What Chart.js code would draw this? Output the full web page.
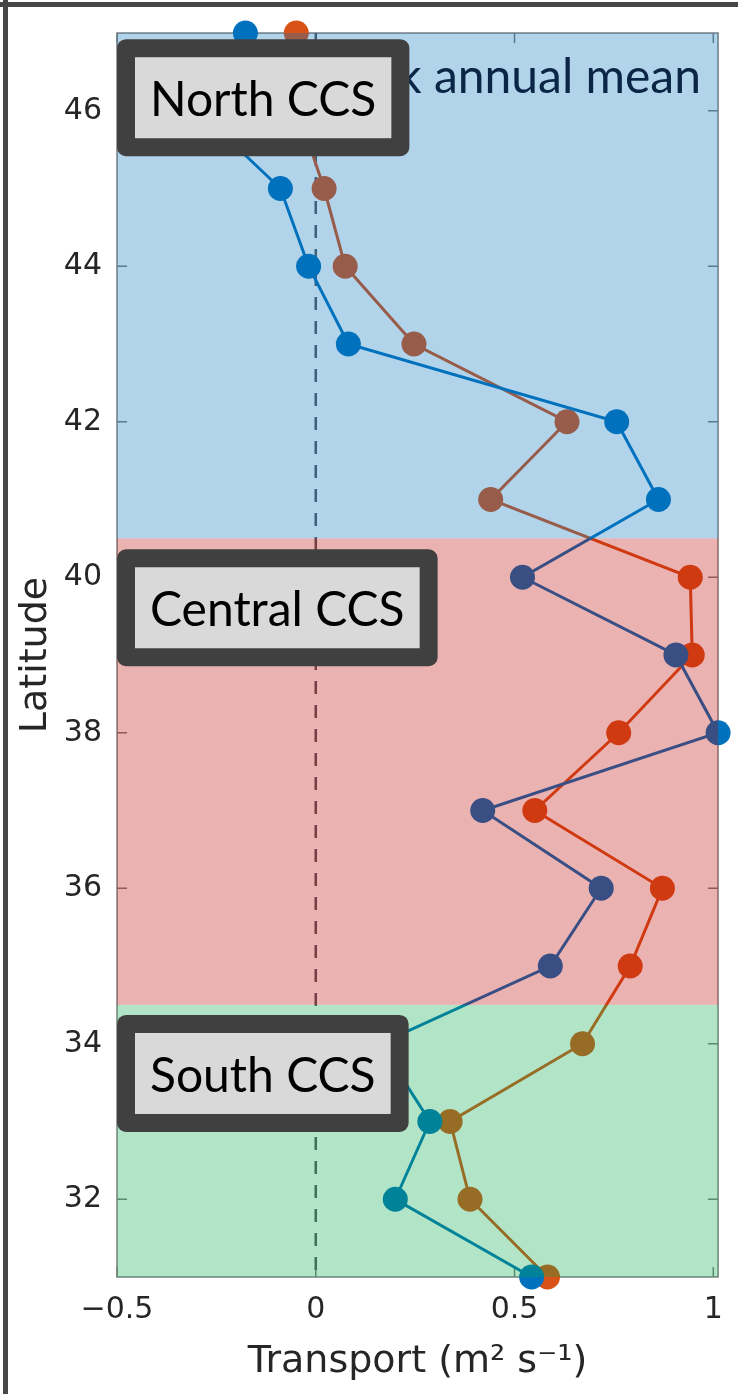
<!DOCTYPE html>
<html>
<head>
<meta charset="utf-8">
<script src="https://cdn.jsdelivr.net/npm/chart.js@4.4.1/dist/chart.umd.min.js"></script>
<style>
  html, body { margin: 0; padding: 0; background: #fff; }
  #wrap { position: relative; width: 738px; height: 1394px; }
</style>
</head>
<body>
<div id="wrap"><canvas id="myChart"></canvas></div>
<script>
// latitude of each sample, north to south
const latitudes = [47, 46, 45, 44, 43, 42, 41, 40, 39, 38, 37, 36, 35, 34, 33, 32, 31];

// transport profiles (m2 s-1)
const transportA = [-0.177, -0.295, -0.089, -0.018, 0.082, 0.757, 0.862, 0.52, 0.906, 1.012,
                    0.42, 0.718, 0.59, 0.162, 0.287, 0.2, 0.543];
const transportB = [-0.049, -0.045, 0.021, 0.074, 0.247, 0.632, 0.44, 0.942, 0.947, 0.762,
                    0.551, 0.872, 0.791, 0.671, 0.338, 0.388, 0.583];

const xTicks = [-0.5, 0, 0.5, 1];
const xTickLabels = ['\u22120.5', '0', '0.5', '1'];
const yTicks = [32, 34, 36, 38, 40, 42, 44, 46];

// regions
const bandEdges = [47, 40.5, 34.5, 31];
const bandColors = ['rgba(0,114,189,0.3)', 'rgba(190,0,0,0.3)', 'rgba(0,170,70,0.3)'];
const regionLabels = ['North CCS', 'Central CCS', 'South CCS'];
const regionBoxTop = [46.92, 40.36, 34.37];

const titleText = 'k annual mean';

const toPoints = vals => vals.map((v, i) => ({ x: v, y: latitudes[i] }));

const overlayPlugin = {
  id: 'overlay',
  beforeDatasetsDraw(chart) {
    const { ctx, chartArea: a, scales: { x, y } } = chart;
    ctx.save();
    // axes box + inner ticks
    ctx.strokeStyle = '#7f7f7f';
    ctx.lineWidth = 1.5;
    ctx.strokeRect(a.left, a.top, a.right - a.left, a.bottom - a.top);
    ctx.beginPath();
    xTicks.forEach(t => {
      const px = x.getPixelForValue(t);
      ctx.moveTo(px, a.bottom); ctx.lineTo(px, a.bottom - 10);
      ctx.moveTo(px, a.top); ctx.lineTo(px, a.top + 10);
    });
    yTicks.forEach(t => {
      const py = y.getPixelForValue(t);
      ctx.moveTo(a.left, py); ctx.lineTo(a.left + 10, py);
      ctx.moveTo(a.right, py); ctx.lineTo(a.right - 10, py);
    });
    ctx.stroke();
    // zero line
    const x0 = x.getPixelForValue(0);
    ctx.strokeStyle = '#555b62';
    ctx.lineWidth = 2.5;
    ctx.setLineDash([13, 11]);
    ctx.beginPath();
    ctx.moveTo(x0, a.top); ctx.lineTo(x0, a.bottom);
    ctx.stroke();
    ctx.restore();
  },
  afterDatasetsDraw(chart) {
    const { ctx, chartArea: a, scales: { y } } = chart;
    ctx.save();
    // translucent region bands over everything in the axes
    for (let i = 0; i < bandColors.length; i++) {
      const y1 = y.getPixelForValue(bandEdges[i]);
      const y2 = y.getPixelForValue(bandEdges[i + 1]);
      ctx.fillStyle = bandColors[i];
      ctx.fillRect(a.left, y1, a.right - a.left, y2 - y1);
    }
    // partial title text
    ctx.fillStyle = '#0b2546';
    ctx.font = '48px Lato';
    ctx.textAlign = 'right';
    ctx.textBaseline = 'alphabetic';
    ctx.fillText(titleText, 701, 93);

    // region label boxes
    ctx.font = '48px Lato';
    ctx.textAlign = 'center';
    regionLabels.forEach((label, i) => {
      const w = ctx.measureText(label).width + 30;
      const top = y.getPixelForValue(regionBoxTop[i]);
      const left = a.left;
      const bw = 18;
      ctx.fillStyle = '#404040';
      ctx.beginPath();
      ctx.roundRect(left, top, w + 2 * bw, 81 + 2 * bw, 9);
      ctx.fill();
      ctx.fillStyle = '#d9d9d9';
      ctx.fillRect(left + bw, top + bw, w, 81);
      ctx.fillStyle = '#000';
      ctx.fillText(label, left + bw + w / 2, top + bw + 59);
    });

    // figure frame
    ctx.fillStyle = '#474747';
    ctx.fillRect(0, 2, chart.width, 5);
    ctx.fillRect(3, 0, 5, chart.height);
    ctx.restore();
  }
};

const data = {
  datasets: [
    {
      label: 'A',
      data: toPoints(transportA),
      borderColor: '#0072bd',
      backgroundColor: '#0072bd',
      borderWidth: 3,
      pointRadius: 12.5,
      pointBorderWidth: 0,
      showLine: true,
      clip: false
    },
    {
      label: 'B',
      data: toPoints(transportB),
      borderColor: '#d95319',
      backgroundColor: '#d95319',
      borderWidth: 3,
      pointRadius: 12.5,
      pointBorderWidth: 0,
      showLine: true,
      clip: false
    }
  ]
};

const tickFont = { family: 'DejaVu Sans', size: 30 };
const titleFont = { family: 'DejaVu Sans', size: 38 };

const config = {
  type: 'scatter',
  data: data,
  options: {
    responsive: true,
    maintainAspectRatio: false,
    animation: false,
    layout: { padding: { top: 32, right: 19, left: 0, bottom: 0 } },
    plugins: {
      legend: { display: false },
      tooltip: { enabled: false }
    },
    scales: {
      x: {
        type: 'linear',
        min: -0.5,
        max: 1.012,
        grid: { display: false, drawTicks: false },
        border: { display: false },
        afterBuildTicks: s => { s.ticks = xTicks.map(v => ({ value: v })); },
        afterFit: s => { s.height = 117; },
        ticks: {
          font: tickFont,
          color: '#262626',
          padding: 15,
          maxRotation: 0,
          callback: (v) => xTickLabels[xTicks.indexOf(v)]
        },
        title: {
          display: true,
          text: 'Transport (m\u00b2 s\u207b\u00b9)',
          font: titleFont,
          color: '#262626',
          padding: { top: 0, bottom: 9 }
        }
      },
      y: {
        type: 'linear',
        min: 31,
        max: 47,
        grid: { display: false, drawTicks: false },
        border: { display: false },
        afterBuildTicks: s => { s.ticks = yTicks.map(v => ({ value: v })); },
        afterFit: s => { s.width = 117; },
        ticks: {
          font: tickFont,
          color: '#262626',
          padding: 15
        },
        title: {
          display: true,
          text: 'Latitude',
          font: titleFont,
          color: '#262626',
          padding: { top: 13, bottom: 0 }
        }
      }
    }
  },
  plugins: [overlayPlugin]
};

/* Rendering the Chart */
const myChart = new Chart(document.getElementById('myChart'), config);
</script>
</body>
</html>
